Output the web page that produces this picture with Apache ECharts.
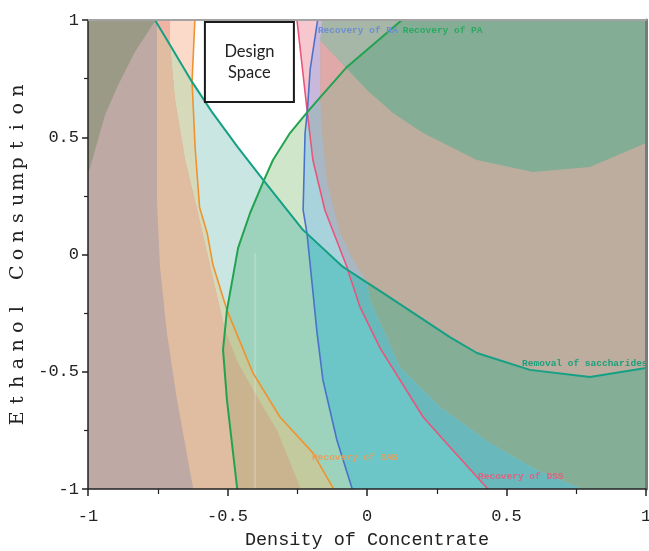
<!DOCTYPE html>
<html><head><meta charset="utf-8">
<script src="https://cdn.jsdelivr.net/npm/echarts@6/dist/echarts.min.js"></script>
<style>html,body{margin:0;padding:0;background:#fff}#c{width:649px;height:551px}</style>
</head><body><div id="c"></div>
<script>
// ---- contour lines (data coords: Density of Concentrate, Ethanol Consumption) ----
const SACCH = [[-0.760,1.0],[-0.706,0.893],[-0.627,0.736],[-0.556,0.608],[-0.462,0.456],[-0.370,0.315],[-0.229,0.104],[-0.215,0.089],[-0.086,-0.053],[-0.069,-0.066],[0.0,-0.120],[0.057,-0.164],[0.297,-0.352],[0.394,-0.420],[0.584,-0.492],[0.799,-0.522],[1.0,-0.484]];
const PA = [[0.125,1.0],[-0.075,0.796],[-0.168,0.670],[-0.214,0.607],[-0.276,0.518],[-0.337,0.403],[-0.370,0.315],[-0.419,0.177],[-0.462,0.028],[-0.502,-0.237],[-0.509,-0.322],[-0.516,-0.407],[-0.502,-0.620],[-0.466,-0.991],[-0.465,-1.0]];
const DSS = [[-0.251,1.0],[-0.214,0.607],[-0.194,0.403],[-0.151,0.190],[-0.072,-0.053],[-0.069,-0.066],[-0.025,-0.224],[0.047,-0.399],[0.201,-0.693],[0.297,-0.821],[0.430,-0.996],[0.433,-1.0]];
const RA = [[-0.177,1.0],[-0.204,0.787],[-0.214,0.607],[-0.222,0.518],[-0.229,0.190],[-0.215,0.089],[-0.197,-0.122],[-0.179,-0.335],[-0.158,-0.535],[-0.108,-0.791],[-0.054,-0.996],[-0.053,-1.0]];
const SAB = [[-0.617,1.0],[-0.627,0.736],[-0.616,0.454],[-0.600,0.200],[-0.573,0.092],[-0.552,-0.045],[-0.502,-0.237],[-0.409,-0.505],[-0.312,-0.693],[-0.194,-0.846],[-0.122,-0.995],[-0.120,-1.0]];
// ---- edges of shaded bands ----
const EDGE_P = [[-0.706,1.0],[-0.706,0.893],[-0.688,0.659],[-0.652,0.403],[-0.613,0.211],[-0.584,0.062],[-0.526,-0.237],[-0.509,-0.322],[-0.462,-0.463],[-0.387,-0.620],[-0.323,-0.748],[-0.240,-0.991],[-0.237,-1.0]];
const EDGE_M = [[-0.753,1.0],[-0.753,0.232],[-0.742,-0.053],[-0.717,-0.335],[-0.681,-0.620],[-0.624,-0.991],[-0.622,-1.0]];
const OLIVE_EDGE = [[-0.757,1.0],[-0.771,0.975],[-0.832,0.864],[-0.892,0.723],[-0.939,0.595],[-0.993,0.369],[-1.0,0.345]];
const EB_UP = [[-0.161,1.0],[-0.168,0.915],[-0.168,0.670],[-0.161,0.518],[-0.143,0.305],[-0.097,0.092],[-0.050,-0.023],[0.0,-0.120]];
const EB_LOW = [[0.0,-0.120],[0.011,-0.194],[0.118,-0.480],[0.262,-0.650],[0.441,-0.804],[0.609,-0.919],[0.763,-0.996],[0.770,-1.0]];
const ARC = [[-0.168,0.915],[-0.075,0.796],[0.0,0.701],[0.093,0.603],[0.201,0.518],[0.394,0.403],[0.595,0.352],[0.799,0.373],[1.0,0.476]];
const FAINT = [[-0.401,0.006],[-0.401,-1.0]];
// ---- annotations ----
const LABELS = [
  ['Recovery of RA', -0.176, 0.953, '#6d8ed3'],
  ['Recovery of PA', 0.128, 0.953, '#2da862'],
  ['Recovery of SAB', -0.197, -0.868, '#e3a15e'],
  ['Recovery of DSS', 0.398, -0.949, '#e0627f'],
  ['Removal of saccharides', 0.556, -0.465, '#1aa07c']
];
const DESIGN_BOX = [[-0.581, 0.992], [-0.262, 0.650]];
const DESIGN_TEXT = 'Design\nSpace';
const X_TICKS = [-1, -0.5, 0, 0.5, 1];

const TL = [-1, 1], TR = [1, 1], BR = [1, -1], BL = [-1, -1];
function seg(a, i, j) { return a.slice(i, j + 1); }

const REGIONS = [
  ['#bcad9e', [TL, TR, BR, BL]],
  ['#85ae96', [TL, ...SACCH, BR, BL]],
  ['#83ad94', [EB_UP[0], ...ARC, TR]],
  ['#dea9a8', [ARC[0], PA[1], PA[2]]],
  ['#a6b7a7', [EB_UP[0], ARC[0], PA[1], PA[0]]],
  ['#a9b7c5', [TL, ...EB_UP, ...seg(EB_LOW, 1, 7), BL]],
  ['#69b9bc', [TL, ...seg(SACCH, 0, 10), ...seg(EB_LOW, 1, 7), BL]],
  ['#a8d3dd', [TL, ...DSS, BL]],
  ['#6cc5c6', [TL, ...seg(SACCH, 0, 9), ...seg(DSS, 6, 11), BL]],
  ['#c7b8dc', [RA[0], EB_UP[0], EB_UP[1], EB_UP[2], PA[3], RA[1]]],
  ['#f7c7d0', [DSS[0], RA[0], RA[1], RA[2]]],
  ['#cfe6cb', [TL, DSS[0], DSS[1], ...seg(RA, 3, 11), BL]],
  ['#9dd3bc', [TL, ...seg(SACCH, 0, 7), ...seg(RA, 6, 11), BL]],
  ['#ffffff', [TL, DSS[0], ...seg(PA, 3, 14), BL]],
  ['#c9e6e2', [TL, ...seg(SACCH, 0, 5), ...seg(PA, 7, 14), BL]],
  ['#c2ca9e', [TL, ...SAB, BL]],
  ['#d6dabb', [TL, ...seg(SAB, 0, 6), ...seg(PA, 10, 14), BL]],
  ['#fcdac9', [SACCH[0], SACCH[1], SACCH[2], SAB[0]]],
  ['#c9b48f', [TL, ...EDGE_P, BL]],
  ['#e0bca0', [TL, ...seg(EDGE_P, 0, 7), ...seg(PA, 11, 14), BL]],
  ['#f1b3a3', [SACCH[0], EDGE_P[0], EDGE_P[1]]],
  ['#bea9a5', [TL, ...EDGE_M, BL]],
  ['#9b9a86', [TL, ...OLIVE_EDGE]]
];

const chart = echarts.init(document.getElementById('c'), null, {renderer: 'canvas'});
const series = [];
REGIONS.forEach(([color, pts]) => {
  series.push({
    type: 'custom', silent: true, clip: true, z: 1, data: [[0, 0]],
    renderItem: (p, api) => ({type: 'polygon', shape: {points: pts.map(q => api.coord(q))}, style: {fill: color}})
  });
});
series.push({type: 'line', data: FAINT, showSymbol: false, silent: true, z: 2,
  lineStyle: {color: 'rgba(255,255,255,0.2)', width: 2}});
const LINES = [[SAB, '#f0922e', 1.6], [DSS, '#e9557a', 1.6], [RA, '#4b72c9', 1.6], [PA, '#22a34f', 2], [SACCH, '#14a084', 2]];
LINES.forEach(([d, c, w]) => series.push({type: 'line', data: d, showSymbol: false, silent: true, z: 3,
  lineStyle: {color: c, width: w}}));
series.push({
  type: 'custom', silent: true, z: 4, data: LABELS.map(l => [l[1], l[2]]),
  renderItem: (p, api) => {
    const pt = api.coord([api.value(0), api.value(1)]);
    const l = LABELS[p.dataIndex];
    return {type: 'text', x: pt[0], y: pt[1], style: {text: l[0], fill: l[3], font: 'bold 9.5px "Liberation Mono"', align: 'left', verticalAlign: 'middle'}};
  }
});
series.push({
  type: 'custom', silent: true, z: 5, data: [[DESIGN_BOX[0][0], DESIGN_BOX[0][1]]],
  renderItem: (p, api) => {
    const a = api.coord(DESIGN_BOX[0]), b = api.coord(DESIGN_BOX[1]);
    return {type: 'group', children: [
      {type: 'rect', shape: {x: a[0], y: a[1], width: b[0] - a[0], height: b[1] - a[1]}, style: {fill: '#fff', stroke: '#1a1a1a', lineWidth: 2}},
      {type: 'text', x: (a[0] + b[0]) / 2, y: (a[1] + b[1]) / 2, style: {text: DESIGN_TEXT, fill: '#222', font: '16.5px Lato', align: 'center', verticalAlign: 'middle', lineHeight: 21}}
    ]};
  }
});

const yName = 'Ethanol Consumption'.split('').map(ch => '{c|' + ch + '}').join('');
const tickLab = {color: '#222', fontFamily: 'Liberation Mono', fontSize: 17};
chart.setOption({
  animation: false,
  backgroundColor: '#fff',
  grid: {left: 88, right: 3, top: 20, bottom: 62, containLabel: false, outerBoundsMode: 'none'},
  xAxis: [{
    type: 'value', min: -1, max: 1, interval: 0.5, z: 10,
    axisLine: {onZero: false, lineStyle: {color: '#222', width: 1.5}},
    axisTick: {length: 7, lineStyle: {color: '#222', width: 1.5}},
    minorTick: {show: true, splitNumber: 2, length: 5, lineStyle: {color: '#222', width: 1.2}},
    splitLine: {show: false},
    axisLabel: Object.assign({margin: 19, formatter: v => String(X_TICKS.find(t => Math.abs(t - v) < 1e-9) ?? v)}, tickLab),
    name: 'Density of Concentrate', nameLocation: 'middle', nameGap: 42,
    nameTextStyle: {fontFamily: 'Liberation Mono', fontSize: 18.5, color: '#222'}
  }, {
    type: 'value', min: -1, max: 1, position: 'top', z: 10,
    axisLine: {onZero: false, lineStyle: {color: '#a3a3a3', width: 2}},
    axisTick: {show: false}, axisLabel: {show: false}, splitLine: {show: false}
  }],
  yAxis: [{
    type: 'value', min: -1, max: 1, interval: 0.5, z: 10,
    axisLine: {onZero: false, lineStyle: {color: '#222', width: 1.5}},
    axisTick: {length: 6, lineStyle: {color: '#222', width: 1.5}},
    minorTick: {show: true, splitNumber: 2, length: 4, lineStyle: {color: '#222', width: 1.2}},
    splitLine: {show: false},
    axisLabel: Object.assign({margin: 9}, tickLab),
    name: yName, nameLocation: 'middle', nameGap: 60, nameRotate: 90,
    nameTextStyle: {color: '#222', rich: {c: {fontFamily: 'DejaVu Serif', fontSize: 19, width: 18.2, align: 'center', color: '#222'}}}
  }, {
    type: 'value', min: -1, max: 1, position: 'right', z: 10,
    axisLine: {onZero: false, lineStyle: {color: '#7a7a7a', width: 3}},
    axisTick: {show: false}, axisLabel: {show: false}, splitLine: {show: false}
  }],
  series: series
});
</script></body></html>
